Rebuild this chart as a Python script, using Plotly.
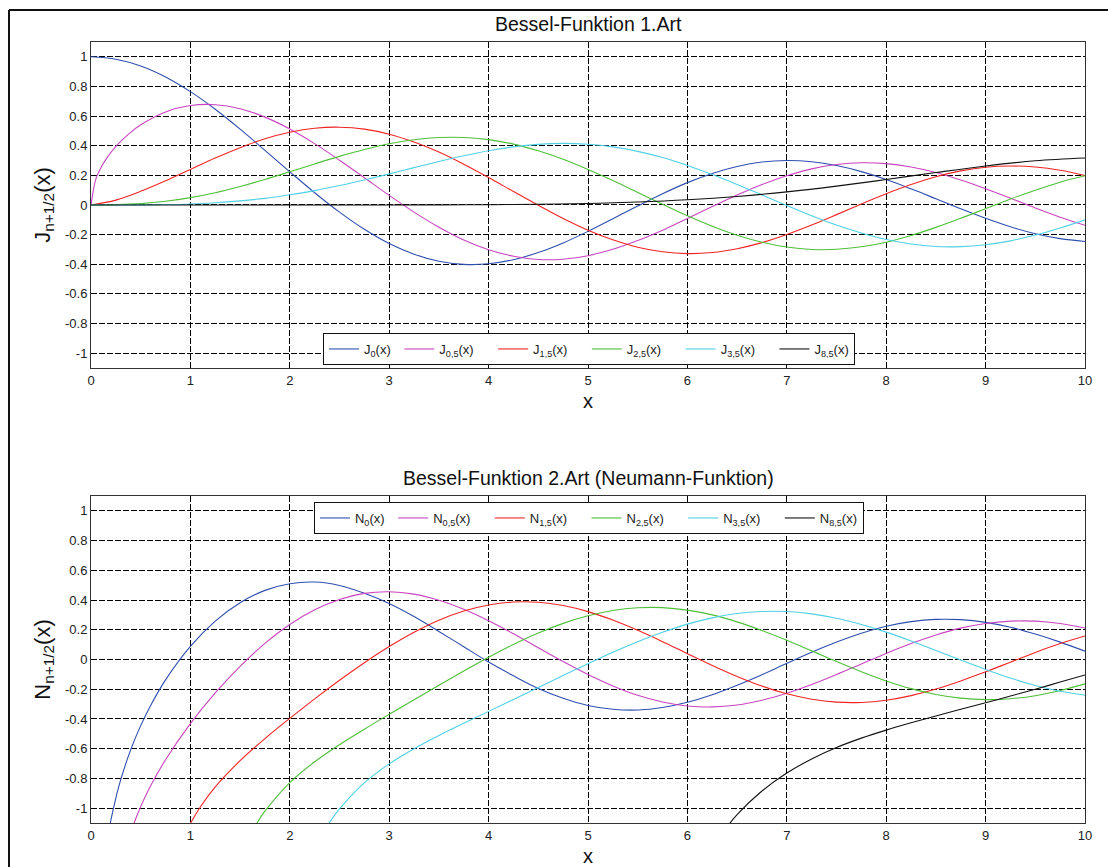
import plotly.graph_objects as go

# ---------------- data ----------------
x_q = [0, 0.25, 0.5, 0.75, 1, 1.25, 1.5, 1.75, 2, 2.25, 2.5, 2.75, 3, 3.25, 3.5, 3.75,
       4, 4.25, 4.5, 4.75, 5, 5.25, 5.5, 5.75, 6, 6.25, 6.5, 6.75, 7, 7.25, 7.5, 7.75,
       8, 8.25, 8.5, 8.75, 9, 9.25, 9.5, 9.75, 10]

J0 = [1.0, 0.984, 0.938, 0.864, 0.765, 0.646, 0.512, 0.369, 0.224, 0.083, -0.048, -0.164,
      -0.260, -0.332, -0.380, -0.401, -0.397, -0.369, -0.321, -0.256, -0.178, -0.093, -0.007,
      0.076, 0.151, 0.213, 0.260, 0.290, 0.300, 0.292, 0.266, 0.225, 0.172, 0.109, 0.042,
      -0.026, -0.090, -0.147, -0.194, -0.227, -0.246]

x_j05 = [0, 0.05, 0.1, 0.15, 0.25, 0.375, 0.5, 0.75, 1, 1.25, 1.5, 1.75, 2, 2.25, 2.5, 2.75,
         3, 3.25, 3.5, 3.75, 4, 4.25, 4.5, 4.75, 5, 5.25, 5.5, 5.75, 6, 6.25, 6.5, 6.75, 7,
         7.25, 7.5, 7.75, 8, 8.25, 8.5, 8.75, 9, 9.25, 9.5, 9.75, 10]
J05 = [0.0, 0.178, 0.252, 0.308, 0.395, 0.477, 0.541, 0.628, 0.671, 0.677, 0.650, 0.593,
       0.513, 0.414, 0.302, 0.184, 0.065, -0.048, -0.150, -0.236, -0.302, -0.346, -0.368,
       -0.366, -0.342, -0.299, -0.240, -0.170, -0.091, -0.011, 0.067, 0.138, 0.198, 0.244,
       0.273, 0.285, 0.279, 0.256, 0.219, 0.169, 0.110, 0.046, -0.020, -0.082, -0.137]

J15 = [0.0, 0.033, 0.092, 0.163, 0.240, 0.317, 0.387, 0.447, 0.491, 0.518, 0.525, 0.512,
       0.478, 0.425, 0.357, 0.275, 0.185, 0.091, -0.002, -0.091, -0.170, -0.235, -0.285,
       -0.316, -0.328, -0.321, -0.295, -0.254, -0.199, -0.135, -0.065, 0.007, 0.076, 0.138,
       0.191, 0.230, 0.255, 0.263, 0.256, 0.234, 0.198]

J25 = [0.0, 0.002, 0.009, 0.025, 0.050, 0.083, 0.125, 0.172, 0.224, 0.277, 0.328, 0.374,
       0.413, 0.440, 0.455, 0.456, 0.441, 0.411, 0.366, 0.309, 0.240, 0.165, 0.085, 0.005,
       -0.073, -0.143, -0.204, -0.251, -0.284, -0.300, -0.299, -0.282, -0.251, -0.206,
       -0.151, -0.090, -0.025, 0.040, 0.100, 0.154, 0.197]

J35 = [0.0, 0.0001, 0.0007, 0.003, 0.007, 0.015, 0.028, 0.045, 0.069, 0.097, 0.131, 0.169,
       0.210, 0.252, 0.294, 0.332, 0.366, 0.392, 0.409, 0.416, 0.410, 0.392, 0.362, 0.320,
       0.267, 0.206, 0.139, 0.068, -0.003, -0.072, -0.135, -0.189, -0.233, -0.263, -0.280,
       -0.281, -0.268, -0.242, -0.203, -0.155, -0.100]

x_j85 = [0, 1, 2, 3, 3.5, 4, 4.5, 5, 5.5, 6, 6.5, 7, 7.5, 8, 8.5, 9, 9.5, 10]
J85 = [0.0, 0.0, 0.0, 0.0002, 0.0007, 0.0020, 0.0048, 0.0102, 0.0198, 0.0352, 0.0578,
       0.0885, 0.1271, 0.1718, 0.2190, 0.2633, 0.2982, 0.3169]

x_n0 = [0.15, 0.2, 0.25, 0.3, 0.4, 0.5, 0.6, 0.75, 1, 1.25, 1.5, 1.75, 2, 2.25, 2.5, 2.75,
        3, 3.25, 3.5, 3.75, 4, 4.25, 4.5, 4.75, 5, 5.25, 5.5, 5.75, 6, 6.25, 6.5, 6.75, 7,
        7.25, 7.5, 7.75, 8, 8.25, 8.5, 8.75, 9, 9.25, 9.5, 9.75, 10]
N0 = [-1.271, -1.081, -0.932, -0.807, -0.606, -0.445, -0.309, -0.137, 0.088, 0.258, 0.382,
      0.465, 0.510, 0.521, 0.498, 0.446, 0.377, 0.289, 0.189, 0.086, -0.017, -0.110, -0.195,
      -0.261, -0.309, -0.335, -0.340, -0.323, -0.288, -0.237, -0.173, -0.102, -0.026, 0.048,
      0.117, 0.177, 0.224, 0.255, 0.270, 0.268, 0.250, 0.217, 0.171, 0.117, 0.056]

x_n05 = [0.4, 0.45, 0.5, 0.6, 0.75, 1, 1.25, 1.5, 1.75, 2, 2.25, 2.5, 2.75, 3, 3.25, 3.5,
         3.75, 4, 4.25, 4.5, 4.75, 5, 5.25, 5.5, 5.75, 6, 6.25, 6.5, 6.75, 7, 7.25, 7.5,
         7.75, 8, 8.25, 8.5, 8.75, 9, 9.25, 9.5, 9.75, 10]
N05 = [-1.162, -1.071, -0.990, -0.850, -0.674, -0.431, -0.225, -0.046, 0.108, 0.235, 0.334,
       0.404, 0.445, 0.456, 0.440, 0.399, 0.338, 0.261, 0.173, 0.079, -0.014, -0.101, -0.178,
       -0.241, -0.286, -0.313, -0.319, -0.306, -0.274, -0.227, -0.168, -0.101, -0.030, 0.041,
       0.107, 0.165, 0.211, 0.242, 0.258, 0.258, 0.242, 0.212]

x_n15 = [0.95, 1, 1.1, 1.25, 1.5, 1.75, 2, 2.25, 2.5, 2.75, 3, 3.25, 3.5, 3.75, 4, 4.25,
         4.5, 4.75, 5, 5.25, 5.5, 5.75, 6, 6.25, 6.5, 6.75, 7, 7.25, 7.5, 7.75, 8, 8.25,
         8.5, 8.75, 9, 9.25, 9.5, 9.75, 10]
N15 = [-1.167, -1.103, -0.992, -0.857, -0.681, -0.532, -0.396, -0.265, -0.140, -0.022,
       0.087, 0.183, 0.264, 0.326, 0.367, 0.387, 0.385, 0.363, 0.322, 0.265, 0.196, 0.120,
       0.039, -0.040, -0.114, -0.179, -0.231, -0.267, -0.287, -0.289, -0.274, -0.243,
       -0.199, -0.144, -0.083, -0.018, 0.047, 0.107, 0.158]

x_n25 = [1.6, 1.7, 1.75, 2, 2.25, 2.5, 2.75, 3, 3.25, 3.5, 3.75, 4, 4.25, 4.5, 4.75, 5,
         5.25, 5.5, 5.75, 6, 6.25, 6.5, 6.75, 7, 7.25, 7.5, 7.75, 8, 8.25, 8.5, 8.75, 9,
         9.25, 9.5, 9.75, 10]
N25 = [-1.179, -1.068, -1.020, -0.828, -0.688, -0.573, -0.469, -0.369, -0.271, -0.173,
       -0.078, 0.015, 0.101, 0.178, 0.243, 0.294, 0.330, 0.348, 0.349, 0.332, 0.300, 0.253,
       0.195, 0.129, 0.058, -0.014, -0.082, -0.144, -0.196, -0.235, -0.260, -0.270, -0.264,
       -0.244, -0.209, -0.164]

x_n35 = [2.35, 2.4, 2.5, 2.75, 3, 3.25, 3.5, 3.75, 4, 4.25, 4.5, 4.75, 5, 5.25, 5.5, 5.75,
         6, 6.25, 6.5, 6.75, 7, 7.25, 7.5, 7.75, 8, 8.25, 8.5, 8.75, 9, 9.25, 9.5, 9.75, 10]
N35 = [-1.147, -1.096, -1.005, -0.830, -0.702, -0.600, -0.511, -0.429, -0.349, -0.269,
       -0.188, -0.107, -0.028, 0.049, 0.120, 0.183, 0.238, 0.280, 0.309, 0.323, 0.323, 0.307,
       0.278, 0.236, 0.184, 0.125, 0.061, -0.004, -0.067, -0.125, -0.175, -0.214, -0.241]

x_n85 = [6.25, 6.5, 6.75, 7, 7.25, 7.5, 7.75, 8, 8.25, 8.5, 8.75, 9, 9.25, 9.5, 9.75, 10]
N85 = [-1.258, -1.044, -0.885, -0.764, -0.669, -0.592, -0.529, -0.475, -0.426, -0.380,
       -0.335, -0.291, -0.246, -0.200, -0.152, -0.104]

x_ticks = [0, 1, 2, 3, 4, 5, 6, 7, 8, 9, 10]
y_ticks = [-1, -0.8, -0.6, -0.4, -0.2, 0, 0.2, 0.4, 0.6, 0.8, 1]
y_tick_text = ["-1", "-0.8", "-0.6", "-0.4", "-0.2", "0", "0.2", "0.4", "0.6", "0.8", "1"]

names_j = ["J<sub>0</sub>(x)", "J<sub>0,5</sub>(x)", "J<sub>1,5</sub>(x)",
           "J<sub>2,5</sub>(x)", "J<sub>3,5</sub>(x)", "J<sub>8,5</sub>(x)"]
names_n = ["N<sub>0</sub>(x)", "N<sub>0,5</sub>(x)", "N<sub>1,5</sub>(x)",
           "N<sub>2,5</sub>(x)", "N<sub>3,5</sub>(x)", "N<sub>8,5</sub>(x)"]
colors = ["#2f4fae", "#c845bf", "#f02424", "#4fbf3a", "#4fd0e4", "#111111"]

# ---------------- figure ----------------
FONT = "Liberation Sans, Arial, sans-serif"
PAD = ["\u00a0", "\u00a0\u00a0\u00a0\u00a0", "\u00a0\u00a0\u00a0\u00a0",
       "\u00a0\u00a0\u00a0\u00a0", "\u00a0\u00a0\u00a0\u00a0", ""]
fig = go.Figure()

top_series = [(x_q, J0), (x_j05, J05), (x_q, J15), (x_q, J25), (x_q, J35), (x_j85, J85)]
bot_series = [(x_n0, N0), (x_n05, N05), (x_n15, N15), (x_n25, N25), (x_n35, N35), (x_n85, N85)]

for (xs, ys), nm, c, pd_ in zip(top_series, names_j, colors, PAD):
    fig.add_trace(go.Scatter(x=xs, y=ys, name=nm + pd_, mode="lines",
                             line=dict(color=c, width=1.1, shape="spline"),
                             xaxis="x", yaxis="y", legend="legend"))
for (xs, ys), nm, c, pd_ in zip(bot_series, names_n, colors, PAD):
    fig.add_trace(go.Scatter(x=xs, y=ys, name=nm + pd_, mode="lines",
                             line=dict(color=c, width=1.1, shape="spline"),
                             xaxis="x2", yaxis="y2", legend="legend2"))

axis_common = dict(range=[0, 10], tickvals=x_ticks, showgrid=True, gridcolor="#000000",
                   griddash="6px,2px", gridwidth=1, showline=True, linecolor="#333333",
                   linewidth=1, mirror=True, zeroline=False, ticks="", automargin=False,
                   tickfont=dict(family=FONT, size=13, color="#222222"),
                   title=dict(text="x", font=dict(family=FONT, size=20, color="#111111"), standoff=7))
yaxis_common = dict(range=[-1.1, 1.1], tickvals=y_ticks, ticktext=y_tick_text, showgrid=True,
                    gridcolor="#000000", griddash="6px,2px", gridwidth=1, showline=True,
                    linecolor="#333333", linewidth=1, mirror=True, zeroline=False, ticks="",
                    automargin=False, tickfont=dict(family=FONT, size=13, color="#222222"))

legend_common = dict(orientation="h", bgcolor="#ffffff", bordercolor="#111111", borderwidth=1,
                     font=dict(family=FONT, size=13, color="#222222"), xanchor="left",
                     yanchor="top", tracegroupgap=0, itemwidth=30)

fig.update_layout(
    width=1108, height=867,
    margin=dict(l=91, r=23, t=42, b=44, autoexpand=False),
    paper_bgcolor="#ffffff", plot_bgcolor="#ffffff",
    font=dict(family=FONT, color="#222222"),
    xaxis=dict(axis_common, domain=[0, 1], anchor="y"),
    yaxis=dict(yaxis_common, domain=[0.5826, 1], anchor="x",
               title=dict(text="J<sub>n+1/2</sub>(x)", font=dict(family=FONT, size=22, color="#111111"), standoff=8)),
    xaxis2=dict(axis_common, domain=[0, 1], anchor="y2"),
    yaxis2=dict(yaxis_common, domain=[0, 0.4187], anchor="x2",
                title=dict(text="N<sub>n+1/2</sub>(x)", font=dict(family=FONT, size=22, color="#111111"), standoff=8)),
    legend=dict(legend_common, x=0.2334, y=0.6274),
    legend2=dict(legend_common, x=0.2243, y=0.411),
    showlegend=True,
    annotations=[
        dict(text="Bessel-Funktion 1.Art", xref="paper", yref="paper", x=0.5, y=1.023,
             xanchor="center", yanchor="middle", showarrow=False,
             font=dict(family=FONT, size=19.5, color="#111111")),
        dict(text="Bessel-Funktion 2.Art (Neumann-Funktion)", xref="paper", yref="paper",
             x=0.5, y=0.4417, xanchor="center", yanchor="middle", showarrow=False,
             font=dict(family=FONT, size=19.5, color="#111111")),
    ],
    shapes=[
        dict(type="line", xref="paper", yref="paper", x0=-0.0825, x1=1.03, y0=1.041, y1=1.041,
             line=dict(color="#111111", width=2)),
        dict(type="line", xref="paper", yref="paper", x0=-0.0825, x1=-0.0825, y0=1.041, y1=-0.07,
             line=dict(color="#111111", width=2)),
    ],
)

fig.write_html("out.html")
